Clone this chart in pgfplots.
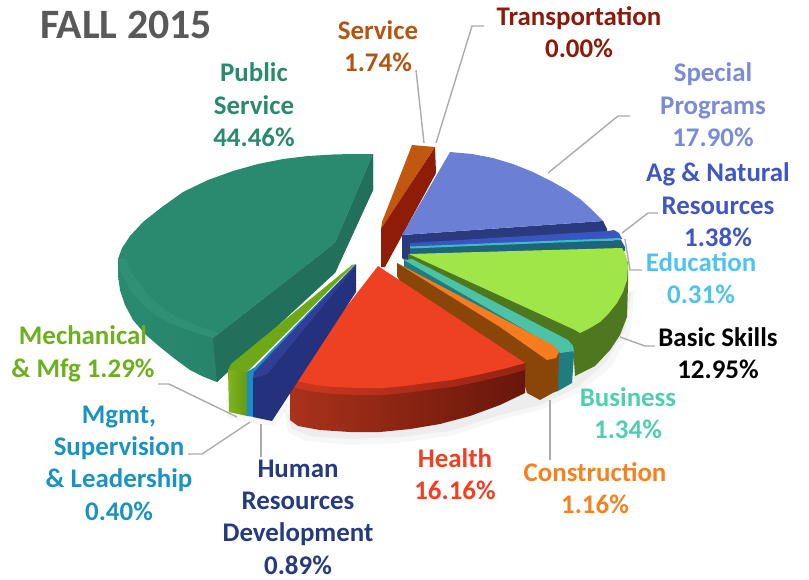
\documentclass[border=0pt]{standalone}
\usepackage{pgfplots}
\pgfplotsset{compat=1.18}
\usepackage{fontspec}
\setmainfont{Carlito}
\definecolor{pstop}{HTML}{2A8A70}
\definecolor{psbev}{HTML}{2F9076}
\definecolor{pswl}{HTML}{2A8A70}
\definecolor{pswall}{HTML}{1F7A62}
\definecolor{pscut}{HTML}{22705C}
\definecolor{svside}{RGB}{143,28,6}
\definecolor{svtop}{RGB}{192,88,15}
\definecolor{spside}{RGB}{42,58,126}
\definecolor{sptop}{RGB}{107,128,212}
\definecolor{agtop}{RGB}{58,85,192}
\definecolor{edside}{RGB}{30,100,122}
\definecolor{edtop}{RGB}{60,190,200}
\definecolor{bsside}{RGB}{78,120,32}
\definecolor{bstop}{RGB}{160,230,72}
\definecolor{buside}{RGB}{31,125,128}
\definecolor{butop}{RGB}{76,195,166}
\definecolor{coside}{RGB}{138,69,8}
\definecolor{cotop}{RGB}{245,125,32}
\definecolor{hel}{RGB}{170,50,27}
\definecolor{her}{RGB}{104,22,10}
\definecolor{hetop}{RGB}{238,64,35}
\definecolor{hebl}{RGB}{205,55,30}
\definecolor{hebr}{RGB}{150,35,18}
\definecolor{mel}{RGB}{130,180,30}
\definecolor{mer}{RGB}{100,155,20}
\definecolor{metop}{RGB}{110,168,22}
\definecolor{mgside}{RGB}{26,140,200}
\definecolor{hrside}{RGB}{36,50,126}
\definecolor{hrtop}{RGB}{48,62,150}
\definecolor{tfall}{RGB}{89,89,89}
\definecolor{tsv}{RGB}{181,84,15}
\definecolor{ttr}{RGB}{139,26,10}
\definecolor{tps}{RGB}{42,138,112}
\definecolor{tsp}{RGB}{122,139,216}
\definecolor{tag}{RGB}{63,87,196}
\definecolor{ted}{RGB}{79,195,240}
\definecolor{tbu}{RGB}{79,207,176}
\definecolor{tco}{RGB}{245,130,32}
\definecolor{the}{RGB}{238,64,35}
\definecolor{thr}{RGB}{38,58,128}
\definecolor{tmg}{RGB}{27,147,192}
\definecolor{tme}{RGB}{109,176,30}
\pgfplotsset{poly/.style={draw=none,fill=#1,mark=none},ld/.style={draw=black!33,line width=1.4pt,mark=none}}
\newcommand{\lab}[4]{\node[text=#1,align=center,inner sep=0pt,anchor=center,font=\fontsize{27}{32.5}\selectfont\bfseries] at (axis cs:#2,#3) {#4};}
\begin{document}
\begin{tikzpicture}
\path[use as bounding box] (0,0) rectangle (809bp,580bp);
\begin{axis}[at={(0,0)},anchor=south west,scale only axis,width=809bp,height=580bp,xmin=0,xmax=809,ymin=0,ymax=580,y dir=reverse,axis lines=none,clip=false]
% soft shadows
\addplot[poly=black,opacity=0.03] coordinates {(284,410)(288,432)(305,441)(350,445)(400,443)(450,436)(500,420)(540,410)(580,392)(610,368)(630,335)(635,290)(620,300)(500,380)} -- cycle;
\addplot[poly=black,opacity=0.04] coordinates {(287,415)(292,429)(310,436)(350,439)(400,437)(450,431)(500,415)(540,405)(578,387)(606,362)(625,330)(632,290)(620,300)(500,380)} -- cycle;
\addplot[poly=black,opacity=0.03] coordinates {(225,400)(228,418)(255,424)(275,426)(290,405)(260,390)} -- cycle;
% Service
\addplot[poly=svside] coordinates {(435,147)(436,173)(385,267)(381,267)(381,228)} -- cycle;
\addplot[poly=svtop] coordinates {(412,145)(435,147)(381,229)(382,222)} -- cycle;
% Special Programs
\addplot[poly=spside] coordinates {(402,235)(603,221)(607,229)(607,240)(420,262)(407,262)(402,258)} -- cycle;
\addplot[poly=sptop] coordinates {(450,152)(472,154)(493,158)(513,164)(533,172)(551,181)(567,190)(580,199)(590,208)(597,215)(603,221)(402,235)} -- cycle;
% Ag
\addplot[poly=agtop] coordinates {(410,243)(608,231)(614,230)(619,233)(622,239)(410,250)} -- cycle;
% Education
\addplot[poly=edside] coordinates {(410,247)(621,240)(625,247)(625,251)(410,256)} -- cycle;
\addplot[poly=edtop] coordinates {(410,246.5)(620,238)(621,240)(410,248.5)} -- cycle;
% Basic Skills
\addplot[poly=bsside] coordinates {(408,254)(622,248)(628,263)(628,285)(627,317)(620,335)(610,350)(595,366)(575,376)(573,347)(408,262)} -- cycle;
\addplot[poly=bstop] coordinates {(409,254)(622,248)(626,256)(628,266)(627,280)(623,292)(617,303)(609,313)(600,322)(590,328)(580,333)(575,330)} -- cycle;
% Business
\addplot[poly=buside] coordinates {(404,258)(573,349)(574,355)(572,383)(558,391)(545,395)(404,270)} -- cycle;
\addplot[poly=butop] coordinates {(404,260)(412,259)(568,340)(573,346)(574,351)(560,353)(553,346)} -- cycle;
% Construction
\addplot[poly=coside] coordinates {(397,263)(553,346)(559,352)(558,390)(540,400)(527,393)(520,370)(410,300)(397,276)} -- cycle;
\addplot[poly=cotop] coordinates {(397,263)(553,345)(559,352)(556,358)(547,360)(500,327)} -- cycle;
% Health
\addplot[draw=none,mark=none,left color=hel,right color=her] coordinates {(290,377)(290,420)(298,426)(320,430)(350,432)(380,432)(410,429)(440,424)(470,416)(500,405)(525,393)(525,363)} -- cycle;
\addplot[draw=none,mark=none,left color=hebl,right color=hebr] coordinates {(290,377)(290,385)(300,389)(316,392)(333,394)(360,395)(383,395)(405,393)(427,390)(452,387)(477,382)(503,376)(525,370)(525,363)} -- cycle;
\addplot[poly=hetop] coordinates {(378,266)(292,377)(300,382)(316,385)(333,387)(360,388)(383,388)(405,386)(427,383)(452,380)(477,375)(503,369)(525,363)} -- cycle;
% Public service walls
\addplot[draw=none,mark=none,left color=pswl,right color=pswall] coordinates {(118,259)(118,275)(120,290)(125,305)(133,320)(146,335)(160,347)(175,359)(190,370)(204,377)(217,382)(335,273)(373,190)(373,154)(335,243)(213,338)} -- cycle;
\addplot[poly=pscut] coordinates {(213,338)(335,243)(335,272)(217,382)} -- cycle;
\addplot[poly=pscut] coordinates {(335,243)(373,154)(373,190)(335,273)} -- cycle;
\addplot[poly=pstop] coordinates {(373,154)(352,154)(333,154.5)(308,156)(283,159)(258,164)(233,171)(208,180)(183,192)(162,207)(143,222)(130,236)(122,248)(118,259)(119,268)(124,279)(132,292)(142,304)(155,315)(170,323)(193,332)(213,338)(335,243)} -- cycle;
\addplot[poly=psbev] coordinates {(118,259)(119,268)(124,279)(132,292)(142,304)(155,315)(170,323)(193,332)(213,338)(219,333)(198,326)(175,316)(160,306)(148,295)(138,282)(130,270)(126,259)} -- cycle;
% Mechanical
\addplot[draw=none,mark=none,left color=mel,right color=mer] coordinates {(228,370)(229,412)(247,416)(247,372)(240,367)} -- cycle;
\addplot[poly=metop] coordinates {(352,265)(355,264)(247,372)(228,370)(231,364)} -- cycle;
% Mgmt
\addplot[poly=mgside] coordinates {(247,372)(255,367)(355,265)(356,268)(255,417)(247,416)} -- cycle;
% HRD
\addplot[poly=hrside] coordinates {(253,378)(267,374)(356,265)(356,292)(272,421)(253,417)} -- cycle;
\addplot[poly=hrtop] coordinates {(254,372)(356,264)(356,266)(267,374)(262,376)(253,378)} -- cycle;
% leaders
\addplot[ld] coordinates {(416,70)(424,143)};
\addplot[ld] coordinates {(484,26)(472,26)(436,143)};
\addplot[ld] coordinates {(630,116)(618,116)(548,173)};
\addplot[ld] coordinates {(622,233)(648,213)(658,213)};
\addplot[ld] coordinates {(625,239)(630,270)(642,270)};
\addplot[ld] coordinates {(620,337)(645,346)(655,346)};
\addplot[ld] coordinates {(550,400)(550,460)};
\addplot[ld] coordinates {(158,384)(169,384)(237,417)};
\addplot[ld] coordinates {(250,422)(202,454)(188,454)};
\addplot[ld] coordinates {(261,424)(261,457)};
% labels
\node[text=tfall,inner sep=0pt,font=\fontsize{42}{44}\selectfont\bfseries] at (axis cs:126,25) {FALL 2015};
\lab{tsv}{378}{46}{Service\\1.74\%}
\lab{ttr}{579}{32}{Transportation\\0.00\%}
\lab{tps}{254}{105}{Public\\Service\\44.46\%}
\lab{tsp}{713}{105}{Special\\Programs\\17.90\%}
\lab{tag}{718}{205}{Ag \& Natural\\Resources\\1.38\%}
\lab{ted}{701}{278}{Education\\0.31\%}
\lab{black}{718}{353}{Basic Skills\\12.95\%}
\lab{tbu}{628}{413}{Business\\1.34\%}
\lab{tco}{595}{488}{Construction\\1.16\%}
\lab{the}{455}{474}{Health\\16.16\%}
\lab{thr}{298}{517}{Human\\Resources\\Development\\0.89\%}
\lab{tmg}{119}{463}{Mgmt,\\Supervision\\\& Leadership\\0.40\%}
\lab{tme}{83}{354}{Mechanical\\\& Mfg 1.29\%}
\end{axis}
\end{tikzpicture}
\end{document}
